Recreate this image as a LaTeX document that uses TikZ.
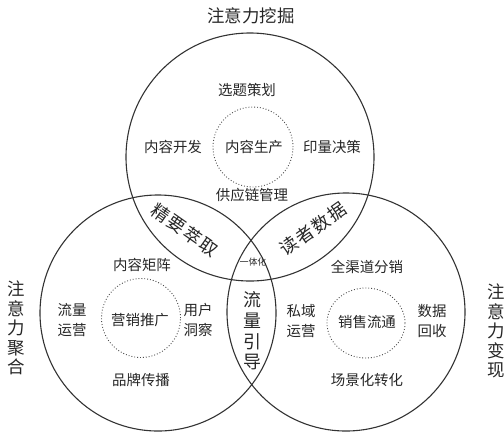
\documentclass[tikz,border=0pt]{standalone}
\usepackage{fontspec}
\usetikzlibrary{shapes.geometric}
\newfontfamily\cjk{Noto Sans CJK SC}
\begin{document}
\begin{tikzpicture}[x=1bp,y=-1bp,
  ring/.style={draw=black!80,line width=1.1bp},
  dotring/.style={draw=black!70,line width=0.9bp,dotted},
  lbl/.style={inner sep=0pt,align=center,font=\cjk\fontsize{14.5}{20}\selectfont,text=black!85},
  lens/.style={inner sep=0pt,align=center,font=\cjk\fontsize{18}{21}\selectfont,text=black!85},
  ttl/.style={inner sep=0pt,align=center,font=\cjk\fontsize{17.5}{19.6}\selectfont,text=black!85},
  tiny/.style={inner sep=0pt,font=\cjk\fontsize{9}{10}\selectfont,text=black!85}]
\useasboundingbox (0,0) rectangle (504,432);
% big circles
\node[ring,circle,minimum size=248bp,inner sep=0pt] (top) at (250,157) {};
\node[ring,circle,minimum size=236bp,inner sep=0pt] (left) at (158,313) {};
\node[ring,circle,minimum size=238bp,inner sep=0pt] (right) at (346,312) {};
% dotted inner circles
\node[dotring,circle,minimum size=80bp,inner sep=0pt] (topc) at (253,147) {};
\node[dotring,circle,minimum size=79bp,inner sep=0pt] (leftc) at (141,318) {};
\node[dotring,ellipse,minimum width=78bp,minimum height=70bp,inner sep=0pt] (rightc) at (366,323) {};
% titles
\node[ttl] (t1) at (251,16) {注意力挖掘};
\node[ttl] (t2) at (16,328) {注\\意\\力\\聚\\合};
\node[ttl] (t3) at (496,331) {注\\意\\力\\变\\现};
% top circle
\node[lbl] (a1) at (247,90) {选题策划};
\node[lbl] (a2) at (173,147) {内容开发};
\node[lbl] (a3) at (254,147) {内容生产};
\node[lbl] (a4) at (332,147) {印量决策};
\node[lbl] (a5) at (252,195) {供应链管理};
% lenses
\node[lens,rotate=-35] (l1) at (185,230) {精\hspace{1.5bp}要\hspace{1.5bp}萃\hspace{1.5bp}取};
\node[lens,rotate=35] (l2) at (313,229) {读\hspace{1.5bp}者\hspace{1.5bp}数\hspace{1.5bp}据};
\node[tiny] (l3) at (253,262) {一体化};
\node[lens,font=\cjk\fontsize{18}{20.8}\selectfont] (l4) at (252,331) {流\\量\\引\\导};
% left circle
\node[lbl] (b1) at (142,265) {内容矩阵};
\node[lbl] (b2) at (72,320) {流量\\运营};
\node[lbl] (b3) at (140,320) {营销推广};
\node[lbl] (b4) at (198,320) {用户\\洞察};
\node[lbl] (b5) at (141,380) {品牌传播};
% right circle
\node[lbl] (c1) at (367,267) {全渠道分销};
\node[lbl] (c2) at (301,321) {私域\\运营};
\node[lbl] (c3) at (367,322) {销售流通};
\node[lbl] (c4) at (432,321) {数据\\回收};
\node[lbl] (c5) at (367,380) {场景化转化};
\end{tikzpicture}
\end{document}
